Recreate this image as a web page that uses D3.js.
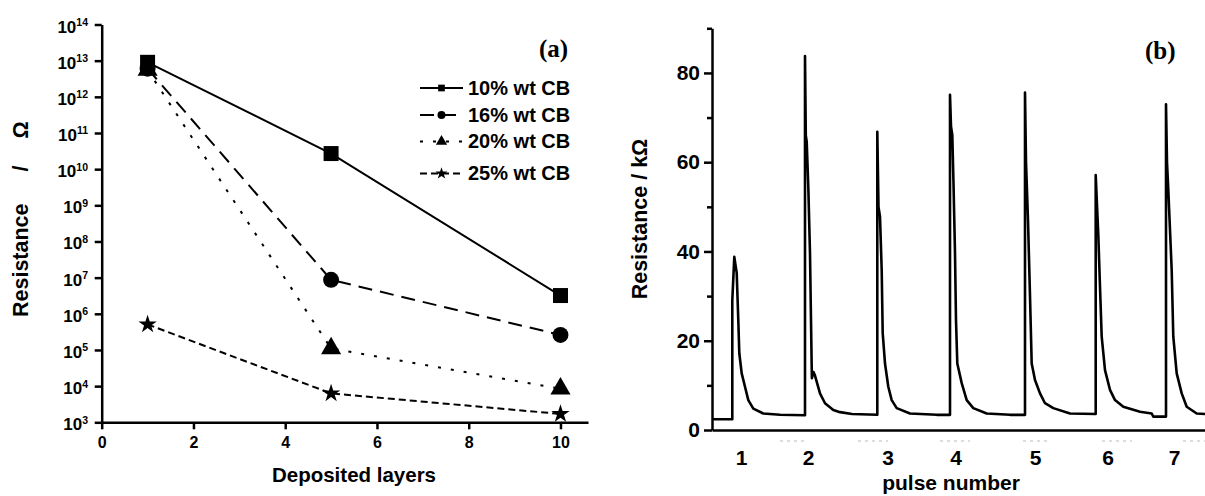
<!DOCTYPE html>
<html lang="en">
<head>
    <meta charset="UTF-8">
    <script src="https://d3js.org/d3.v7.min.js"></script>
    <title>Resistance vs layers / pulses</title>
    <style>
        body { margin: 0; background: #fff; }
        svg { display: block; }
        .sans { font-family: "Liberation Sans", Arial, sans-serif; font-weight: bold; }
        .serif { font-family: "Liberation Serif", "Times New Roman", serif; font-weight: bold; }
    </style>
</head>
<body>
    <svg id="chart" width="1205" height="496"></svg>
    <script>
        // ---- panel (a) data ----
        const layers = [1, 5, 10];
        const cb10 = [9e12, 2.7e10, 3.2e6];
        const cb16 = [6e12, 8.7e6, 2.6e5];
        const cb20 = [5.5e12, 1.1e5, 8.5e3];
        const cb25 = [5.1e5, 6.3e3, 1.7e3];
        const seriesLabels = ["10% wt CB", "16% wt CB", "20% wt CB", "25% wt CB"];
        const layerTicks = [0, 2, 4, 6, 8, 10];
        const exponents = [3, 4, 5, 6, 7, 8, 9, 10, 11, 12, 13, 14];

        // ---- panel (b) data ----
        const pulseLabels = ["1", "2", "3", "4", "5", "6", "7"];
        const pulseLabelTimes = [29, 96, 175.5, 243.5, 323, 395.5, 462];
        const resTicks = [0, 20, 40, 60, 80];
        const resMinorTicks = [10, 30, 50, 70, 90];
        // [time, resistance kOhm]
        const pulseTrace = [
            // baseline + pulse 1
            [0, 2.4], [20.3, 2.4], [20.3, 29.1], [22.3, 38.8], [24.7, 35.2], [26.3, 24.6], [27.3, 17.2], [29.7, 12.7],
            [33, 9.7], [36.3, 6.7], [41.3, 4.8], [51.3, 3.7], [68, 3.4], [93, 3.3],
            // pulse 2
            [93, 83.8], [93.8, 66], [94.7, 64.6], [96.3, 54.5], [98, 39.6], [99, 24.6], [99.7, 14.2], [99.9, 11.6],
            [101.5, 13], [103, 12.2], [108, 8.2], [113, 6], [121.3, 4.5], [128, 4], [140, 3.6], [165.3, 3.4],
            // pulse 3
            [165.3, 66.8], [166.5, 50], [168, 47.8], [169.7, 35.8], [170.7, 21.7], [173, 14.9], [176.3, 9.7],
            [179.7, 6.7], [184.7, 4.9], [198, 3.7], [224.7, 3.4], [238, 3.4],
            // pulse 4
            [238, 75.1], [239, 68], [240.3, 66.1], [241.5, 55.3], [243, 39.6], [244, 24.6], [245.3, 14.9],
            [249.7, 10.5], [254.7, 6.7], [261.3, 4.9], [274.7, 3.7], [298, 3.4], [313, 3.4],
            // pulse 5
            [313, 75.6], [314, 60], [314.7, 55.6], [316, 47], [318, 30], [319.7, 14.9], [323, 11.2], [328, 8.2],
            [333, 6], [341.3, 4.9], [358, 3.7], [383.7, 3.6],
            // pulse 6
            [383.7, 57.1], [386.3, 43.7], [388, 32.1], [389.7, 20.9], [393, 13.4], [398, 9], [403, 6.7],
            [411.3, 5.2], [428, 4.1], [439.7, 3.7], [441.3, 3.0], [454, 3.0],
            // pulse 7
            [454, 73], [455, 60], [456.3, 53.8], [459.7, 35.8], [461.3, 20.9], [464.7, 12.7], [469.7, 8.2],
            [474.7, 5.2], [484.7, 3.7], [493, 3.6]
        ];
        // faint dotted marks under the axis
        const faintSpans = [[68, 96], [146, 176], [228, 258], [311, 338], [390, 420], [471, 493]];

        const svg = d3.select("#chart");

        // ================= panel (a) =================
        const xA = d3.scaleLinear().domain([0, 10.6]).range([101.7, 588]);
        const yA = d3.scaleLog().domain([1e3, 1e14]).range([422.3, 24.5]);

        const series = [cb10, cb16, cb20, cb25];
        const styles = [
            { dash: null, symbol: d3.symbolSquare, size: 225, lsize: 45 },
            { dash: "14,8", symbol: d3.symbolCircle, size: 200, lsize: 50 },
            { dash: "3,10", symbol: d3.symbolTriangle, size: 175, lsize: 55 },
            { dash: "7,4", symbol: d3.symbolStar, size: 105, lsize: 45 }
        ];

        const gA = svg.append("g");

        // axes
        const xAxisA = gA.append("g")
            .attr("transform", `translate(0,${yA(1e3)})`)
            .call(d3.axisBottom(xA).tickValues(layerTicks).tickSize(7).tickSizeOuter(0).tickPadding(7));
        xAxisA.selectAll("text").attr("class", "sans").style("font-size", "16px").attr("fill", "#000");

        gA.append("g")
            .attr("transform", `translate(${xA(0)},0)`)
            .call(d3.axisLeft(yA).tickValues(exponents.map(e => Math.pow(10, e))).tickSize(7).tickSizeOuter(0).tickFormat(""));

        gA.selectAll(".domain, .tick line").attr("stroke", "#000").attr("stroke-width", 2.5);

        // power-of-ten labels
        const expLabel = gA.append("g").selectAll("text")
            .data(exponents)
            .join("text")
            .attr("class", "sans")
            .attr("text-anchor", "end")
            .attr("x", 88)
            .attr("y", e => yA(Math.pow(10, e)) + 8)
            .style("font-size", "17px");
        expLabel.append("tspan").text("10");
        expLabel.append("tspan").attr("dy", -6.5).style("font-size", "10.5px").text(e => e);

        // lines
        const lineA = d3.line().x((d, i) => xA(layers[i])).y(d => yA(d));
        series.forEach((s, k) => {
            gA.append("path")
                .datum(s)
                .attr("fill", "none")
                .attr("stroke", "#000")
                .attr("stroke-width", 2)
                .attr("stroke-dasharray", styles[k].dash)
                .attr("d", lineA);
        });
        // markers, drawn so 10% sits on top
        [3, 2, 1, 0].forEach(k => {
            gA.append("g").selectAll("path")
                .data(series[k])
                .join("path")
                .attr("transform", (d, i) => `translate(${xA(layers[i])},${yA(d)})`)
                .attr("d", d3.symbol().type(styles[k].symbol).size(styles[k].size))
                .attr("fill", "#000");
        });

        // legend
        const legendRows = [88, 115, 141.5, 173.5];
        const legend = gA.append("g");
        seriesLabels.forEach((name, k) => {
            const row = legend.append("g").attr("transform", `translate(420,${legendRows[k]})`);
            row.append("line")
                .attr("x1", 0).attr("x2", 43)
                .attr("stroke", "#000").attr("stroke-width", 2)
                .attr("stroke-dasharray", styles[k].dash);
            row.append("path")
                .attr("transform", "translate(21.5,0)")
                .attr("d", d3.symbol().type(styles[k].symbol).size(styles[k].lsize))
                .attr("fill", "#000");
            row.append("text")
                .attr("class", "sans")
                .attr("x", 48)
                .attr("y", 6.5)
                .style("font-size", "20px")
                .text(name);
        });

        gA.append("text").attr("class", "serif")
            .attr("x", 539).attr("y", 57)
            .style("font-size", "25px")
            .text("(a)");

        gA.append("text").attr("class", "sans")
            .attr("x", 354).attr("y", 482)
            .attr("text-anchor", "middle")
            .style("font-size", "20.5px")
            .text("Deposited layers");

        const yTitleA = gA.append("text").attr("class", "sans")
            .attr("transform", "translate(28,317) rotate(-90)")
            .style("font-size", "21.5px");
        yTitleA.append("tspan").text("Resistance");
        yTitleA.append("tspan").attr("dx", 32).text("/");
        yTitleA.append("tspan").attr("dx", 27).text("Ω");

        // ================= panel (b) =================
        const xB = d3.scaleLinear().domain([0, 493]).range([712, 1205]);
        const yB = d3.scaleLinear().domain([0, 90]).range([430, 28.3]);

        const gB = svg.append("g");

        const xAxisB = gB.append("g")
            .attr("transform", `translate(0,${yB(0)})`)
            .call(d3.axisBottom(xB).tickValues(pulseLabelTimes).tickFormat((d, i) => pulseLabels[i]).tickSize(0).tickSizeOuter(0).tickPadding(20.5));
        xAxisB.selectAll("text").attr("class", "sans").style("font-size", "21px").attr("fill", "#000");

        const yAxisB = gB.append("g")
            .attr("transform", `translate(${xB(0)},0)`)
            .call(d3.axisLeft(yB).tickValues(resTicks).tickSize(8).tickSizeOuter(0).tickPadding(4));
        yAxisB.selectAll("text").attr("class", "sans").style("font-size", "21px").attr("fill", "#000");

        gB.append("g")
            .attr("transform", `translate(${xB(0)},0)`)
            .call(d3.axisLeft(yB).tickValues(resMinorTicks).tickSize(5).tickFormat(""))
            .select(".domain").remove();

        gB.selectAll(".domain, .tick line").attr("stroke", "#000").attr("stroke-width", 2.5);

        gB.append("g").selectAll("line")
            .data(faintSpans)
            .join("line")
            .attr("x1", d => xB(d[0])).attr("x2", d => xB(d[1]))
            .attr("y1", yB(0) + 11).attr("y2", yB(0) + 11)
            .attr("stroke", "#bbb").attr("stroke-width", 1.2)
            .attr("stroke-dasharray", "3,4");

        gB.append("path")
            .datum(pulseTrace)
            .attr("fill", "none")
            .attr("stroke", "#000")
            .attr("stroke-width", 2.6)
            .attr("stroke-linejoin", "round")
            .attr("d", d3.line().x(d => xB(d[0])).y(d => yB(d[1])));

        gB.append("text").attr("class", "serif")
            .attr("x", 1145).attr("y", 59)
            .style("font-size", "25px")
            .text("(b)");

        gB.append("text").attr("class", "sans")
            .attr("x", 951).attr("y", 490)
            .attr("text-anchor", "middle")
            .style("font-size", "21px")
            .text("pulse number");

        gB.append("text").attr("class", "sans")
            .attr("transform", "translate(647,219) rotate(-90)")
            .attr("text-anchor", "middle")
            .style("font-size", "21.5px")
            .text("Resistance / kΩ");
    </script>
</body>
</html>
